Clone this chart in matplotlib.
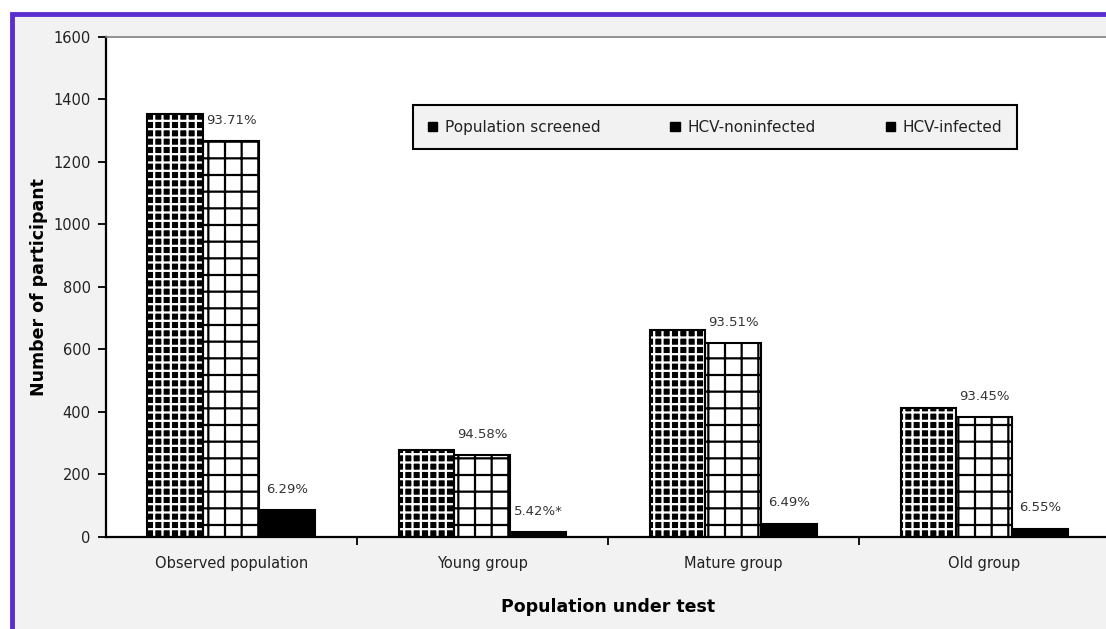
import numpy as np
import matplotlib
matplotlib.use("Agg")
import matplotlib.pyplot as plt
from matplotlib.patches import Rectangle, Patch

# Data
groups = ["Observed population", "Young group", "Mature group", "Old group"]
screened = [1352, 277, 663, 412]
noninfected = [1267, 262, 620, 385]
infected = [85, 15, 43, 27]
pct_noninfected = ["93.71%", "94.58%", "93.51%", "93.45%"]
pct_infected = ["6.29%", "5.42%*", "6.49%", "6.55%"]

plt.rcParams["font.family"] = ["DejaVu Sans"]
plt.rcParams["hatch.linewidth"] = 1.6

fig = plt.figure(figsize=(11.06, 6.29), dpi=100, facecolor="white")

# Grey panel with the purple frame around it
frame = Rectangle((0.0105, -0.05), 1.1, 1.028, transform=fig.transFigure,
                  facecolor="#f2f2f2", edgecolor="#5a2fd2", linewidth=3.5,
                  zorder=-10)
fig.patches.append(frame)

ax = fig.add_axes([0.0958, 0.1463, 0.9078, 0.7949])
ax.set_facecolor("white")

x = np.arange(len(groups))
w = 0.223

# Population screened: black with a white grid
ax.bar(x - w, screened, w, color="black", edgecolor="white", hatch="++",
       linewidth=0, zorder=2)
ax.bar(x - w, screened, w, fill=False, edgecolor="black", linewidth=1.5,
       zorder=3)
# HCV-noninfected: white with a black grid
ax.bar(x, noninfected, w, color="white", edgecolor="black", hatch="+",
       linewidth=1.5, zorder=2)
# HCV-infected: solid black
ax.bar(x + w, infected, w, color="black", edgecolor="black", linewidth=1.5,
       zorder=2)

# Percentage labels
for i in range(len(groups)):
    ax.text(x[i], noninfected[i] + 45, pct_noninfected[i], ha="center",
            va="bottom", fontsize=9.5, color="#333333")
    ax.text(x[i] + w, infected[i] + 45, pct_infected[i], ha="center",
            va="bottom", fontsize=9.5, color="#333333")

ax.set_xlim(-0.5, len(groups) - 0.5)
ax.set_ylim(0, 1600)
ax.set_yticks(np.arange(0, 1601, 200))
ax.set_xticks(x)
ax.set_xticklabels(groups, fontsize=10.5, color="#222222")
ax.set_xticks(x[:-1] + 0.5, minor=True)
ax.tick_params(axis="x", which="major", length=0, pad=14)
ax.tick_params(axis="x", which="minor", length=6, width=1.3, direction="out")
ax.tick_params(axis="y", length=6, width=1.3, direction="out",
               labelsize=10.5, labelcolor="#222222", pad=5)

for side in ["top", "right"]:
    ax.spines[side].set_color("#7f7f7f")
    ax.spines[side].set_linewidth(1.2)
for side in ["left", "bottom"]:
    ax.spines[side].set_color("black")
    ax.spines[side].set_linewidth(1.6)

ax.set_ylabel("Number of participant", fontsize=12.5, fontweight="bold",
              labelpad=4)
ax.set_xlabel("Population under test", fontsize=12.5, fontweight="bold",
              labelpad=19)

handles = [Patch(facecolor="black", edgecolor="black"),
           Patch(facecolor="black", edgecolor="black"),
           Patch(facecolor="black", edgecolor="black")]
leg = ax.legend(handles, ["Population screened", "HCV-noninfected",
                          "HCV-infected"],
                ncol=3, loc="center", bbox_to_anchor=(0.6066, 0.819),
                fontsize=11, handlelength=0.6, handleheight=0.6,
                handletextpad=0.5, columnspacing=4.6, fancybox=False,
                framealpha=1, borderpad=0.95, borderaxespad=0)
for t in leg.get_texts():
    t.set_color("#222222")
leg.get_frame().set_facecolor("#f2f2f2")
leg.get_frame().set_edgecolor("black")
leg.get_frame().set_linewidth(1.5)

fig.savefig("out.png", dpi=100, facecolor=fig.get_facecolor())
